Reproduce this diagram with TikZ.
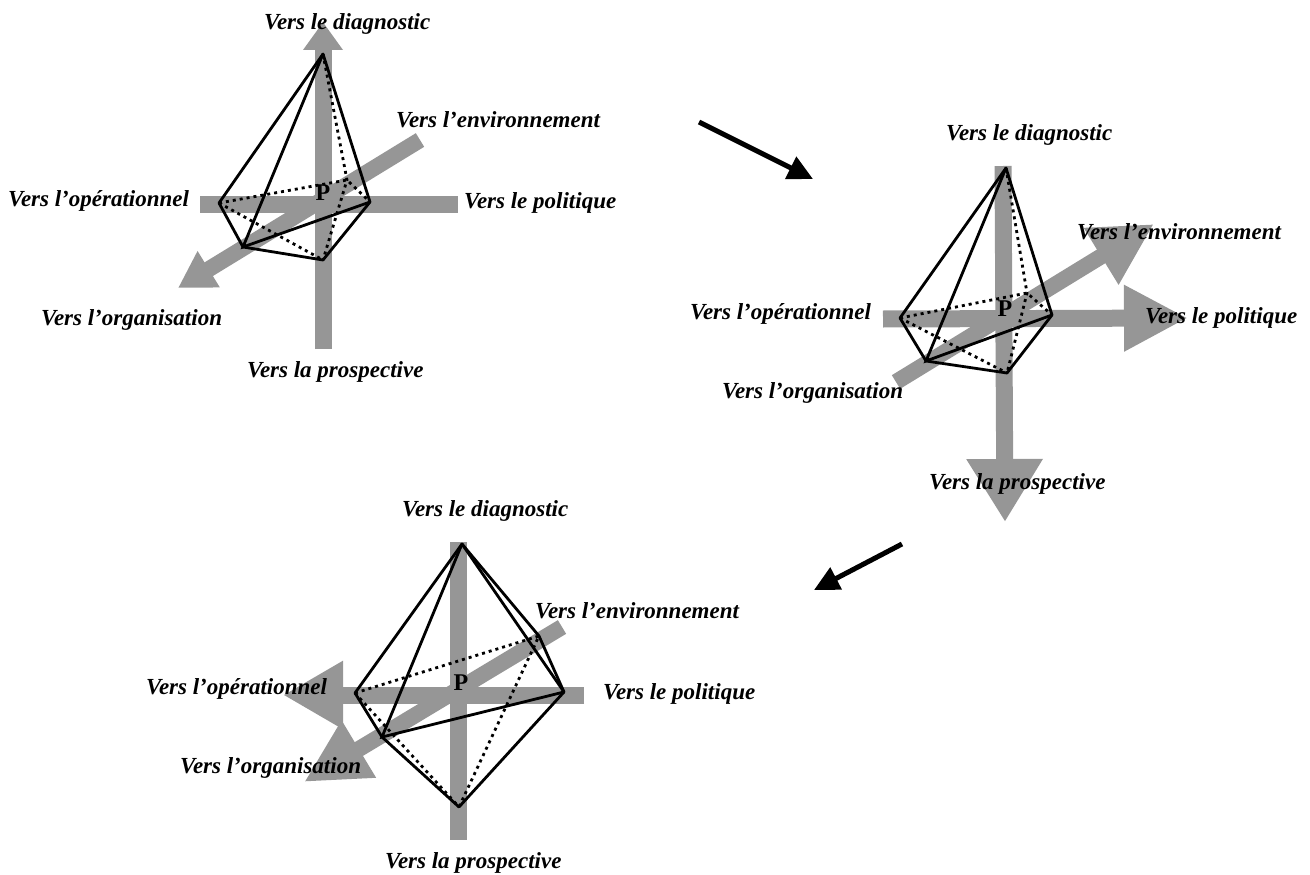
\documentclass[tikz,border=0pt]{standalone}
\usepackage{fontspec}
\setmainfont{Liberation Serif}
\usetikzlibrary{arrows.meta}
\definecolor{axisgray}{RGB}{150,150,150}
\tikzset{
    axisline/.style={draw=axisgray, line width=#1},
    axisline/.default=17pt,
    edgeline/.style={draw=black, line width=2.8pt},
    hiddenline/.style={draw=black, line width=2.8pt, dash pattern=on 3pt off 4pt},
    label/.style={font=\bfseries\itshape\fontsize{23}{25}\selectfont, inner sep=0pt, anchor=west},
    center/.style={font=\bfseries\fontsize{24}{26}\selectfont, inner sep=0pt},
}
\begin{document}
\begin{tikzpicture}[x=1pt, y=-1pt]
    \useasboundingbox (0,0) rectangle (1310,875);

    % First figure: axes
    \coordinate (vtopA) at (323,22);
    \coordinate (vbotA) at (323,349);
    \coordinate (hleftA) at (200,204);
    \coordinate (hrightA) at (458,204);
    \coordinate (dtailA) at (420,140);
    \coordinate (dtipA) at (178,288);
    \draw[axisline, -{Triangle[length=28pt, width=38pt]}] (vbotA) -- (vtopA);
    \draw[axisline] (hleftA) -- (hrightA);
    \draw[axisline=16pt, -{Triangle[length=36pt, width=40pt]}] (dtailA) -- (dtipA);

    % First figure: solid
    \coordinate (topA) at (323,54);
    \coordinate (leftA) at (219,203);
    \coordinate (rightA) at (370,202);
    \coordinate (botA) at (323,260);
    \coordinate (frontA) at (243,247);
    \coordinate (backA) at (347,180);
    \draw[edgeline, line join=round] (leftA) -- (topA) -- (rightA) -- (botA) -- (frontA) -- cycle;
    \draw[edgeline] (topA) -- (frontA) -- (rightA);
    \draw[hiddenline] (leftA) -- (backA) -- (rightA);
    \draw[hiddenline] (topA) -- (backA) -- (botA);
    \draw[hiddenline] (leftA) -- (botA);

    % First figure: labels
    \node[center] (pA) at (323,193) {P};
    \node[label] (diagA) at (264,24) {Vers le diagnostic};
    \node[label] (envA) at (396,120) {Vers l’environnement};
    \node[label] (opA) at (8,201) {Vers l’opérationnel};
    \node[label] (polA) at (464,203) {Vers le politique};
    \node[label] (orgA) at (41,320) {Vers l’organisation};
    \node[label] (prosA) at (247,372) {Vers la prospective};

    % Second figure: axes
    \coordinate (vtopB) at (1003,166);
    \coordinate (vtipB) at (1005,522);
    \coordinate (htailB) at (883,319);
    \coordinate (htipB) at (1188,318);
    \coordinate (dtailB) at (896,382);
    \coordinate (dtipB) at (1154,224);
    \draw[axisline, -{Triangle[length=63pt, width=72pt]}] (vtopB) -- (vtipB);
    \draw[axisline, -{Triangle[length=64pt, width=62pt]}] (htailB) -- (htipB);
    \draw[axisline=16pt, -{Triangle[length=62pt, width=62pt]}] (dtailB) -- (dtipB);

    % Second figure: solid
    \coordinate (topB) at (1006,168);
    \coordinate (leftB) at (900,318);
    \coordinate (rightB) at (1052,315);
    \coordinate (botB) at (1007,373);
    \coordinate (frontB) at (926,361);
    \coordinate (backB) at (1027,293);
    \draw[edgeline, line join=round] (leftB) -- (topB) -- (rightB) -- (botB) -- (frontB) -- cycle;
    \draw[edgeline] (topB) -- (frontB) -- (rightB);
    \draw[hiddenline] (leftB) -- (backB) -- (rightB);
    \draw[hiddenline] (topB) -- (backB) -- (botB);
    \draw[hiddenline] (leftB) -- (botB);

    % Second figure: labels
    \node[center] (pB) at (1005,309) {P};
    \node[label] (diagB) at (946,135) {Vers le diagnostic};
    \node[label] (envB) at (1077,232) {Vers l’environnement};
    \node[label] (opB) at (690,314) {Vers l’opérationnel};
    \node[label] (polB) at (1145,318) {Vers le politique};
    \node[label] (orgB) at (722,393) {Vers l’organisation};
    \node[label] (prosB) at (929,484) {Vers la prospective};

    % Third figure: axes
    \coordinate (vtopC) at (458.5,542);
    \coordinate (vbotC) at (458.5,840);
    \coordinate (htailC) at (584,695);
    \coordinate (htipC) at (283,695);
    \coordinate (dtailC) at (562,627);
    \coordinate (dtipC) at (304,782);
    \draw[axisline] (vtopC) -- (vbotC);
    \draw[axisline, -{Triangle[length=60pt, width=64pt]}] (htailC) -- (htipC);
    \draw[axisline=16pt, -{Triangle[length=64pt, width=62pt]}] (dtailC) -- (dtipC);

    % Third figure: solid
    \coordinate (topC) at (462,544);
    \coordinate (leftC) at (355,693);
    \coordinate (rightC) at (564,692);
    \coordinate (botC) at (459,807);
    \coordinate (frontC) at (382,737);
    \coordinate (backC) at (539,636);
    \draw[edgeline, line join=round] (leftC) -- (topC) -- (rightC) -- (botC) -- (frontC) -- cycle;
    \draw[edgeline] (topC) -- (frontC) -- (rightC);
    \draw[edgeline] (topC) -- (backC) -- (rightC);
    \draw[hiddenline] (leftC) -- (backC) -- (botC);
    \draw[hiddenline] (leftC) -- (botC);

    % Third figure: labels
    \node[center] (pC) at (461,683) {P};
    \node[label] (diagC) at (402,511) {Vers le diagnostic};
    \node[label] (envC) at (535,611) {Vers l’environnement};
    \node[label] (opC) at (146,689) {Vers l’opérationnel};
    \node[label] (polC) at (603,694) {Vers le politique};
    \node[label] (orgC) at (180,768) {Vers l’organisation};
    \node[label] (prosC) at (385,863) {Vers la prospective};

    % Black arrows between figures
    \coordinate (stepAa) at (699,122);
    \coordinate (stepAb) at (813,179);
    \coordinate (stepBa) at (902,544);
    \coordinate (stepBb) at (814,590);
    \draw[line width=5pt, -{Triangle[length=25pt, width=24pt]}] (stepAa) -- (stepAb);
    \draw[line width=5pt, -{Triangle[length=25pt, width=24pt]}] (stepBa) -- (stepBb);
\end{tikzpicture}
\end{document}
